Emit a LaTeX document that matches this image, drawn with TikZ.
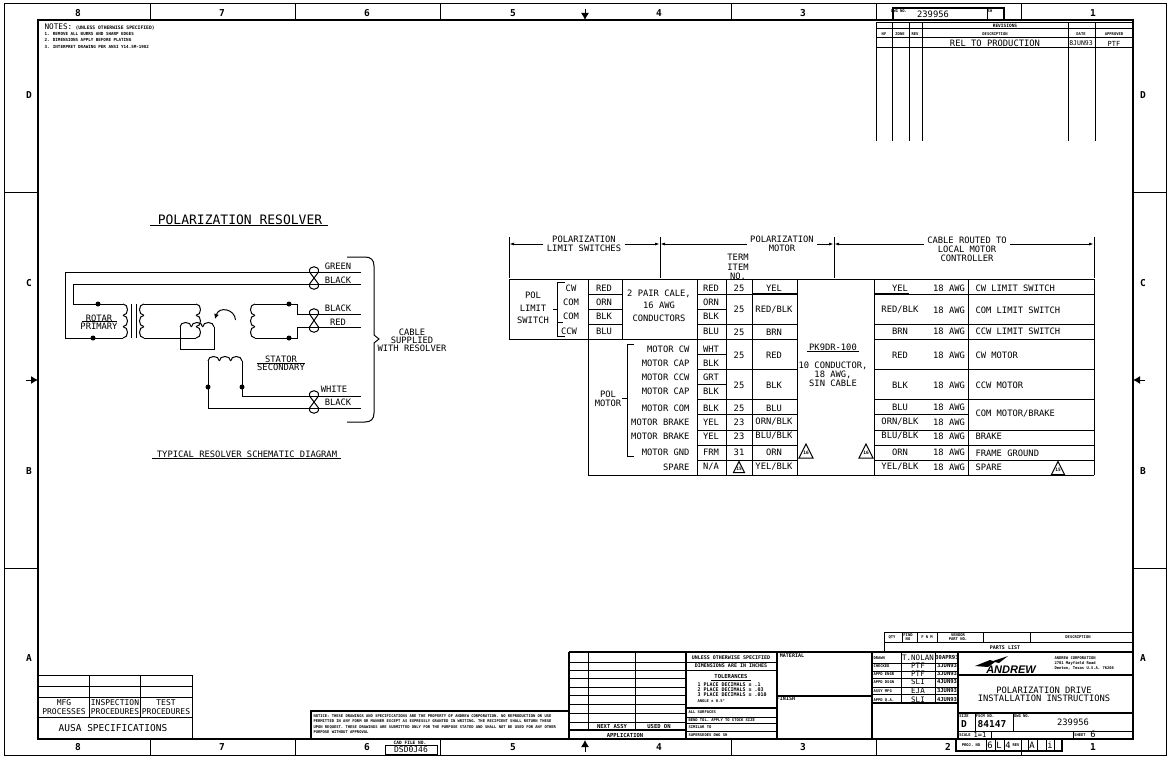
\documentclass[tikz,border=0pt]{standalone}
\usepackage{fontspec}
\setmainfont{DejaVu Sans Mono}
\newfontfamily\logofont{Liberation Sans}
\usetikzlibrary{arrows.meta}
\tikzset{
  lbl/.style={inner sep=0pt,align=center,font=\fontsize{8.8}{9.2}\selectfont},
  lblw/.style={lbl,anchor=west},
  lble/.style={lbl,anchor=east},
  big/.style={inner sep=0pt,font=\fontsize{13}{14}\selectfont},
  zone/.style={inner sep=0pt,font=\fontsize{9.5}{10}\selectfont\bfseries},
  tiny/.style={inner sep=0pt,align=center,font=\fontsize{3.8}{4}\selectfont\bfseries},
  tinyw/.style={tiny,anchor=west},
  tol/.style={inner sep=0pt,anchor=west,font=\fontsize{5}{5.5}\selectfont\bfseries},
  dimtxt/.style={lbl,inner sep=3pt},
  dimline/.style={-{Latex[length=5pt,width=3pt]}},
  dot/.style={fill=black},
  heavy/.style={line width=2pt},
}
\newcommand{\coilv}[4]{%
  \foreach \n in {0,1,2}
    \draw (#1,{#2+\n*#3}) .. controls ({#1+#4},{#2+\n*#3}) and ({#1+#4},{#2+(\n+1)*#3}) .. (#1,{#2+(\n+1)*#3});
}
\newcommand{\coilh}[4]{%
  \foreach \n in {0,1,2}
    \draw ({#1+\n*#3},#2) .. controls ({#1+\n*#3},{#2+#4}) and ({#1+(\n+1)*#3},{#2+#4}) .. ({#1+(\n+1)*#3},#2);
}
\newcommand{\twistpair}[3]{%
  \draw ({#1-4.5},#2) .. controls ({#1-6},{#2-7}) and ({#1+6},{#2-7}) .. ({#1+4.5},#2)
    -- ({#1-4.5},#3) .. controls ({#1-6},{#3+7}) and ({#1+6},{#3+7}) .. ({#1+4.5},#3) -- cycle;
}
\newcommand{\trimark}[5]{%
  \draw ({#2-#5},{#3+#5}) -- (#2,{#3-#5}) -- ({#2+#5},{#3+#5}) -- cycle;
  \node[inner sep=0pt,font=\fontsize{4.5}{5}\selectfont\bfseries] (#1) at (#2,{#3+1.5}) {#4};
}
\begin{document}
\begin{tikzpicture}[x=1pt,y=-1pt,line width=1pt]
  \useasboundingbox (0,0) rectangle (1171,760);
  % sheet frame and zones
  \draw (4,4) rectangle (1166,755);
  \draw[heavy] (38,20) rectangle (1133,739);
  \foreach \xx in {150,295,440,731,876,1021} {
    \draw (\xx,4) -- (\xx,20);
    \draw (\xx,739) -- (\xx,755);
  }
  \foreach \yy in {192,568} {
    \draw (4,\yy) -- (38,\yy);
    \draw (1133,\yy) -- (1166,\yy);
  }
  \foreach \xx/\txt [count=\i] in {78/8,222/7,367/6,513/5,659/4,803/3,1093/1}
    \node[zone] (ztop\i) at (\xx,13) {\txt};
  \foreach \xx/\txt [count=\i] in {78/8,222/7,367/6,513/5,659/4,803/3,948/2,1093/1}
    \node[zone] (zbot\i) at (\xx,747) {\txt};
  \foreach \yy/\txt [count=\i] in {95/D,283/C,471/B,658/A} {
    \node[zone] (zleft\i) at (29,\yy) {\txt};
    \node[zone] (zright\i) at (1143,\yy) {\txt};
  }
  \draw[-{Latex[length=7pt,width=8pt]}] (585,9) -- (585,20);
  \draw[-{Latex[length=7pt,width=8pt]}] (585,752) -- (585,740);
  \draw[-{Latex[length=7pt,width=8pt]}] (26,380) -- (38,380);
  \draw[-{Latex[length=7pt,width=8pt]}] (1145,380) -- (1133,380);

  % notes
  \node[inner sep=0pt,anchor=west,font=\fontsize{7.7}{8}\selectfont] (noteshead) at (44,27) {NOTES:};
  \node[tinyw,font=\fontsize{4.7}{5}\selectfont\bfseries] (notesunless) at (75,28) {(UNLESS OTHERWISE SPECIFIED)};
  \node[tinyw,font=\fontsize{4.2}{5}\selectfont\bfseries] (note1) at (44,34) {1. REMOVE ALL BURRS AND SHARP EDGES};
  \node[tinyw,font=\fontsize{4.2}{5}\selectfont\bfseries] (note2) at (44,40) {2. DIMENSIONS APPLY BEFORE PLATING};
  \node[tinyw,font=\fontsize{4.2}{5}\selectfont\bfseries] (note3) at (44,47) {3. INTERPRET DRAWING PER ANSI Y14.5M-1982};

  % revisions
  \draw[heavy] (893,20) -- (893,8) -- (1004,8) -- (1004,20);
  \draw (987,8) -- (987,20);
  \node[tiny] (dwgnotop) at (899,11) {DWG NO.};
  \node[tiny] (shtop) at (990,11) {SH};
  \node[lbl] (dwgtop) at (933,14) {239956};
  \draw (876,23) -- (1133,23);
  \foreach \yy in {29,38,48} \draw (876,\yy) -- (1133,\yy);
  \foreach \xx in {876,892,909,922,1068,1095} \draw (\xx,23) -- (\xx,141);
  \draw (876,23) -- (876,29);
  \node[tiny,font=\fontsize{4.5}{5}\selectfont\bfseries] (revhead) at (1005,26) {REVISIONS};
  \foreach \xx/\txt [count=\i] in {884/NF,900/ZONE,915/REV,995/DESCRIPTION,1081/DATE,1114/APPROVED}
    \node[tiny] (revcol\i) at (\xx,34) {\txt};
  \node[lbl] (revtxt) at (995,43) {REL TO PRODUCTION};
  \node[lbl,font=\fontsize{6.5}{7}\selectfont] (revdate) at (1081,43) {8JUN93};
  \node[lbl,font=\fontsize{7}{7}\selectfont] (revby) at (1114,44) {PTF};

  % resolver schematic
  \node[big] (restitle) at (240,220) {POLARIZATION RESOLVER};
  \draw (150,225) -- (328,225);
  \draw (361,272) -- (65,272) -- (65,338) -- (123,338);
  \draw (361,284) -- (73,284) -- (73,304) -- (123,304);
  \coilv{123}{304}{11.33}{6}
  \draw (131,304) -- (131,338);
  \draw (136,304) -- (136,338);
  \coilv{144}{304}{11.33}{-6}
  \coilv{196}{304}{11.33}{6}
  \draw (144,304) -- (196,304);
  \draw (144,338) -- (196,338);
  \coilh{180}{327}{11.33}{-6}
  \draw (180,327) -- (180,349) -- (214,349) -- (214,327);
  \draw[-{Latex[length=5pt,width=5pt]}] (235.5,320) .. controls (235,309) and (219,306) .. (215,319);
  \coilv{255}{304}{11.33}{-6}
  \draw (361,314) -- (297,314) -- (297,304) -- (255,304);
  \draw (361,327) -- (297,327) -- (297,338) -- (255,338);
  \coilh{208}{361}{11.33}{-6}
  \draw (208,361) -- (208,408) -- (361,408);
  \draw (242,361) -- (242,396) -- (361,396);
  \foreach \xx/\yy in {98/304,93/338,289/304,289/338,208/387,242/387}
    \fill[dot] (\xx,\yy) circle (2.5pt);
  \twistpair{314}{272}{284}
  \twistpair{314}{314}{327}
  \twistpair{314}{396}{408}
  \foreach \xx/\yy/\txt [count=\i] in {338/266/GREEN,338/280/BLACK,338/308/BLACK,338/322/RED,334/389/WHITE,338/402/BLACK}
    \node[lbl] (wirelbl\i) at (\xx,\yy) {\txt};
  \node[lbl] (rotarlbl) at (99,318) {ROTAR};
  \draw (82,321) -- (117,321);
  \node[lbl] (primarylbl) at (99,326) {PRIMARY};
  \node[lbl] (statorlbl) at (281,359) {STATOR};
  \draw (257,363) -- (305,363);
  \node[lbl] (secondarylbl) at (281,367) {SECONDARY};
  \draw (347,257) -- (365,257) .. controls (371,257) and (374,260) .. (374,266) -- (374,335)
    -- (379,339) -- (374,343) -- (374,413) .. controls (374,419) and (371,422) .. (365,422) -- (347,422);
  \node[lbl] (cablelbl) at (412,332) {CABLE};
  \node[lbl] (supplbl) at (412,340) {SUPPLIED};
  \node[lbl] (withlbl) at (412,348) {WITH RESOLVER};
  \node[lbl] (schemlbl) at (247,454) {TYPICAL RESOLVER SCHEMATIC DIAGRAM};
  \draw (152,458) -- (341,458);

  % dimension lines above the table
  \foreach \xx in {509,660,834,1094} \draw (\xx,237) -- (\xx,278);
  \coordinate (dima) at (509,244);
  \coordinate (dimb) at (660,244);
  \coordinate (dimc) at (834,244);
  \coordinate (dimd) at (1094,244);
  \node[dimtxt] (dimlimit) at (584,244) {POLARIZATION\\LIMIT SWITCHES};
  \node[dimtxt] (dimmotor) at (782,244) {POLARIZATION\\MOTOR};
  \node[dimtxt] (dimcable) at (967,249) {CABLE ROUTED TO\\LOCAL MOTOR\\CONTROLLER};
  \draw[dimline] (dimlimit.west) -- (dima);
  \draw[dimline] (dimlimit.east) -- (dimb);
  \draw[dimline] (dimmotor.west) -- (dimb);
  \draw[dimline] (dimmotor.east) -- (dimc);
  \draw[dimline] (dimcable.west |- dima) -- (dimc);
  \draw[dimline] (dimcable.east |- dima) -- (dimd);
  \node[lbl] (termlbl) at (738,267) {TERM\\ITEM\\NO.};

  % table grid
  \draw (509,279) -- (1094,279);
  \draw (509,339) -- (697,339);
  \draw (588,475) -- (1094,475);
  \foreach \xx in {509,622} \draw (\xx,279) -- (\xx,339);
  \foreach \xx in {588,697,726,752,797,874,968,1094} \draw (\xx,279) -- (\xx,475);
  \foreach \yy in {294,309,324} \draw (588,\yy) -- (622,\yy);
  \foreach \yy in {294,309,324,339,354,369,384,399,414,430,445,460} \draw (697,\yy) -- (726,\yy);
  \foreach \yy in {294,324,339,369,399,414,430,445,460} {
    \draw (726,\yy) -- (797,\yy);
    \draw (874,\yy) -- (968,\yy);
  }
  \foreach \yy in {294,324,339,369,399,430,445,460} \draw (968,\yy) -- (1094,\yy);
  \draw[heavy] (752,294) -- (797,294);
  \draw[heavy] (874,294) -- (909,294);

  % limit switch block
  \node[lbl] (polswitch) at (533,308) {POL\\[3.5pt]LIMIT\\[3.5pt]SWITCH};
  \draw (565,282) -- (557,282) -- (557,336) -- (565,336);
  \draw (553,309) -- (557,309);
  \draw (557,322) -- (563,322);
  \foreach \xx/\yy/\txt [count=\i] in {571/288/CW,571/302/COM,571/316/COM,569/331/CCW}
    \node[lbl] (swpin\i) at (\xx,\yy) {\txt};
  \foreach \yy/\txt [count=\i] in {288/RED,302/ORN,316/BLK,331/BLU} {
    \node[lbl] (swwire\i) at (604,\yy) {\txt};
  }
  \node[lbl] (paircable) at (659,305.5) {2 PAIR CALE,\\[3.5pt]16 AWG\\[3.5pt]CONDUCTORS};

  % motor block
  \node[lbl] (polmotor) at (608,398.5) {POL\\MOTOR};
  \draw (622,398) -- (627,398);
  \draw (634,344) -- (627,344) -- (627,456) -- (634,456);
  \foreach \yy/\txt [count=\i] in {349/MOTOR CW,363/MOTOR CAP,377/MOTOR CCW,391/MOTOR CAP,408/MOTOR COM,422/MOTOR BRAKE,436/MOTOR BRAKE,452/MOTOR GND,467/SPARE}
    \node[lble] (mtrpin\i) at (690,\yy) {\txt};
  \foreach \yy/\txt [count=\i] in {288/RED,302/ORN,316/BLK,331/BLU,349/WHT,363/BLK,377/GRT,391/BLK,408/BLK,422/YEL,436/YEL,452/FRM,467/{N/A}}
    \node[lbl] (wirea\i) at (711,\yy) {\txt};
  \foreach \yy/\txt [count=\i] in {288/25,309/25,332/25,355/25,385/25,408/25,422/23,436/23,452/31}
    \node[lbl] (item\i) at (739,\yy) {\txt};
  \trimark{itemtri}{739}{467}{15}{5.5}
  \foreach \yy/\txt [count=\i] in {288/YEL,310/{RED/BLK},332/BRN,355/RED,385/BLK,408/BLU,422/{ORN/BLK},436/{BLU/BLK},452/ORN,467/{YEL/BLK}}
    \node[lbl] (wireb\i) at (774,\yy) {\txt};

  % cable column
  \node[lbl] (pkcable) at (833,347) {PK9DR-100};
  \draw (807,351) -- (859,351);
  \node[lbl] (cablespec) at (833,374) {10 CONDUCTOR,\\18 AWG,\\SIN CABLE};
  \trimark{tria}{806}{451}{16}{7}
  \trimark{trib}{866}{451}{16}{7}

  % routed cable
  \foreach \yy/\txt [count=\i] in {288/YEL,310/{RED/BLK},331/BRN,355/RED,385/BLK,407/BLU,422/{ORN/BLK},436/{BLU/BLK},452/ORN,467/{YEL/BLK}} {
    \node[lbl] (wirec\i) at (900,\yy) {\txt};
    \node[lbl] (awg\i) at (949,\yy) {18 AWG};
  }
  \foreach \yy/\txt [count=\i] in {288/CW LIMIT SWITCH,310/COM LIMIT SWITCH,331/CCW LIMIT SWITCH,355/CW MOTOR,385/CCW MOTOR,414/{COM MOTOR/BRAKE},436/BRAKE,453/FRAME GROUND,467/SPARE}
    \node[lblw] (func\i) at (975,\yy) {\txt};
  \trimark{tric}{1058}{468}{15}{6.5}

  % bottom left specs
  \draw (38,675) -- (192,675);
  \foreach \yy in {686,697,717} \draw (38,\yy) -- (192,\yy);
  \foreach \xx in {89,140} \draw (\xx,675) -- (\xx,717);
  \draw (192,675) -- (192,739);
  \foreach \xx/\txt [count=\i] in {64/{MFG\\PROCESSES},115/{INSPECTION\\PROCEDURES},166/{TEST\\PROCEDURES}}
    \node[lbl,font=\fontsize{8}{9}\selectfont] (spec\i) at (\xx,707) {\txt};
  \node[lbl,font=\fontsize{9.5}{10}\selectfont] (ausa) at (113,728) {AUSA SPECIFICATIONS};

  % proprietary notice and cad file box
  \draw[heavy] (311,739) -- (311,711) -- (569,711);
  \draw[heavy] (569,652) -- (569,739);
  \foreach \yy/\txt [count=\i] in {716/NOTICE: THESE DRAWINGS AND SPECIFICATIONS ARE THE PROPERTY OF ANDREW CORPORATION. NO REPRODUCTION OR USE,721/PERMITTED IN ANY FORM OR MANNER EXCEPT AS EXPRESSLY GRANTED IN WRITING. THE RECIPIENT SHALL RETURN THESE,727/UPON REQUEST. THESE DRAWINGS ARE SUBMITTED ONLY FOR THE PURPOSE STATED AND SHALL NOT BE USED FOR ANY OTHER,732/PURPOSE WITHOUT APPROVAL}
    \node[tinyw] (notice\i) at (313,\yy) {\txt};
  \node[tiny,font=\fontsize{4.5}{5}\selectfont\bfseries] (cadfile) at (410,742.5) {CAD FILE NO.};
  \draw (385,745) rectangle (437,754);
  \node[lbl,font=\fontsize{8}{8}\selectfont] (cadno) at (411,750) {DSD0J46};

  % application table
  \draw[heavy] (569,652) -- (1133,652);
  \foreach \yy in {662,670,678,687,695,704,713,722} \draw (569,\yy) -- (686,\yy);
  \draw[heavy] (569,730) -- (686,730);
  \foreach \xx in {588,635} \draw (\xx,652) -- (\xx,730);
  \node[tiny,font=\fontsize{5.5}{6}\selectfont\bfseries] (nextassy) at (612,726) {NEXT ASSY};
  \node[tiny,font=\fontsize{5.5}{6}\selectfont\bfseries] (usedon) at (659,726) {USED ON};
  \node[tiny,font=\fontsize{5.5}{6}\selectfont\bfseries] (application) at (625,735) {APPLICATION};

  % tolerance block
  \draw[heavy] (686,652) -- (686,739);
  \draw[heavy] (777,652) -- (777,739);
  \foreach \yy in {662,670,717,723,731} \draw (686,\yy) -- (777,\yy);
  \draw[heavy] (686,708) -- (777,708);
  \node[tiny,font=\fontsize{5}{5}\selectfont\bfseries] (unless) at (731,658) {UNLESS OTHERWISE SPECIFIED};
  \node[tiny,font=\fontsize{5}{5}\selectfont\bfseries] (inches) at (731,666) {DIMENSIONS ARE IN INCHES};
  \node[tiny,font=\fontsize{5.5}{5}\selectfont\bfseries] (tolhead) at (731,676) {TOLERANCES};
  \draw (711,680) -- (751,680);
  \foreach \yy/\txt [count=\i] in {685/1 PLACE DECIMALS ± .1,690/2 PLACE DECIMALS ± .03,695/3 PLACE DECIMALS ± .010}
    \node[tol] (tolline\i) at (697,\yy) {\txt};
  \node[tinyw] (tolangle) at (697,701) {ANGLE ± 0.5°};
  \foreach \yy/\txt [count=\i] in {712/ALL SURFACES,720/BEND TOL. APPLY TO STOCK SIZE,727/SIMILAR TO,735/SUPERSEDES DWG SH}
    \node[tinyw] (tolrow\i) at (688,\yy) {\txt};

  % material
  \draw[heavy] (777,696) -- (872,696);
  \node[tiny,font=\fontsize{5}{5}\selectfont\bfseries] (material) at (792,656) {MATERIAL};
  \node[tiny,font=\fontsize{5}{5}\selectfont\bfseries] (finish) at (786,699) {FINISH};

  % parts list
  \draw (884,653) -- (884,632) -- (1133,632);
  \draw (884,642) -- (1133,642);
  \foreach \xx in {902,917,937,983,1030} \draw (\xx,632) -- (\xx,642);
  \foreach \xx/\txt [count=\i] in {892/QTY,908/{FIND\\NO},927/{F N M},958/{VENDOR\\PART NO.},1078/DESCRIPTION}
    \node[tiny] (partcol\i) at (\xx,637) {\txt};
  \node[tiny,font=\fontsize{5}{5}\selectfont\bfseries] (partslist) at (1005,648) {PARTS LIST};

  % signatures
  \draw[heavy] (872,652) -- (872,739);
  \draw[heavy] (958,652) -- (958,739);
  \foreach \xx in {901,935} \draw (\xx,653) -- (\xx,703);
  \foreach \yy in {663,671,678,687,694} \draw (872,\yy) -- (958,\yy);
  \draw[heavy] (872,703) -- (958,703);
  \foreach \yy/\lab/\who/\dat [count=\i] in {658/DRAWN/T.NOLAN/30APR93,666/CHECKED/PTF/3JUN93,674/APPD ENGR/PTF/3JUN93,682/APPD DSGN/SLI/4JUN93,691/ASSY MFG/EJA/3JUN93,700/APPD Q.A./SLI/4JUN93} {
    \node[tinyw] (signlab\i) at (873,\yy) {\lab};
    \node[lbl,font=\fontsize{7.5}{8}\selectfont] (signwho\i) at (918,\yy) {\who};
    \node[lbl,font=\fontsize{5.5}{6}\selectfont\bfseries] (signdat\i) at (947,\yy) {\dat};
  }

  % company and title
  \fill (975,666) -- (990,660) -- (993,661) -- (1008,656) -- (999,663) -- (995,662) -- (988,667) -- cycle;
  \node[inner sep=0pt,font=\logofont\fontsize{11}{11}\selectfont\bfseries\itshape] (logotxt) at (1011,670) {ANDREW};
  \node[tinyw] (corpa) at (1054,658) {ANDREW CORPORATION};
  \node[tinyw] (corpb) at (1054,663) {2701 Mayfield Road};
  \node[tinyw] (corpc) at (1054,668) {Denton, Texas U.S.A. 76208};
  \draw[heavy] (958,675) -- (1133,675);
  \node[lbl] (titlea) at (1044,690) {POLARIZATION DRIVE};
  \node[lbl] (titleb) at (1044,698) {INSTALLATION INSTRUCTIONS};
  \draw[heavy] (958,713) -- (1133,713);
  \draw (958,731) -- (1133,731);
  \foreach \xx in {975,1013} \draw (\xx,713) -- (\xx,731);
  \draw (991,731) -- (991,739);
  \draw (1073,731) -- (1073,739);
  \node[tiny] (sizelab) at (964,716) {SIZE};
  \node[tiny] (fscmlab) at (985,716) {FSCM NO.};
  \node[tiny] (dwglab) at (1022,716) {DWG NO.};
  \node[zone] (sizeval) at (964,724) {D};
  \node[zone] (fscmval) at (992,724) {84147};
  \node[lbl] (dwgval) at (1073,722) {239956};
  \node[tiny] (scalelab) at (965,735) {SCALE};
  \node[lbl,font=\fontsize{7}{7}\selectfont] (scaleval) at (980,735) {1=1};
  \node[tiny] (sheetlab) at (1080,735) {SHEET};
  \node[lbl] (sheetval) at (1093,734) {6};

  % strip below the title block
  \draw[heavy] (956,739) -- (956,751) -- (1062,751) -- (1062,739);
  \foreach \xx in {986,995,1004,1028,1037,1046,1054} \draw (\xx,739) -- (\xx,751);
  \node[tiny] (findlab) at (971,745) {PROJ. NO};
  \foreach \xx/\txt [count=\i] in {990/6,999/L,1008/4}
    \node[lbl] (projval\i) at (\xx,745) {\txt};
  \node[tiny] (revlab) at (1016,745) {REV};
  \node[lbl] (revval) at (1032,745) {A};
  \node[lbl] (revvalb) at (1050,745) {i};
\end{tikzpicture}
\end{document}
